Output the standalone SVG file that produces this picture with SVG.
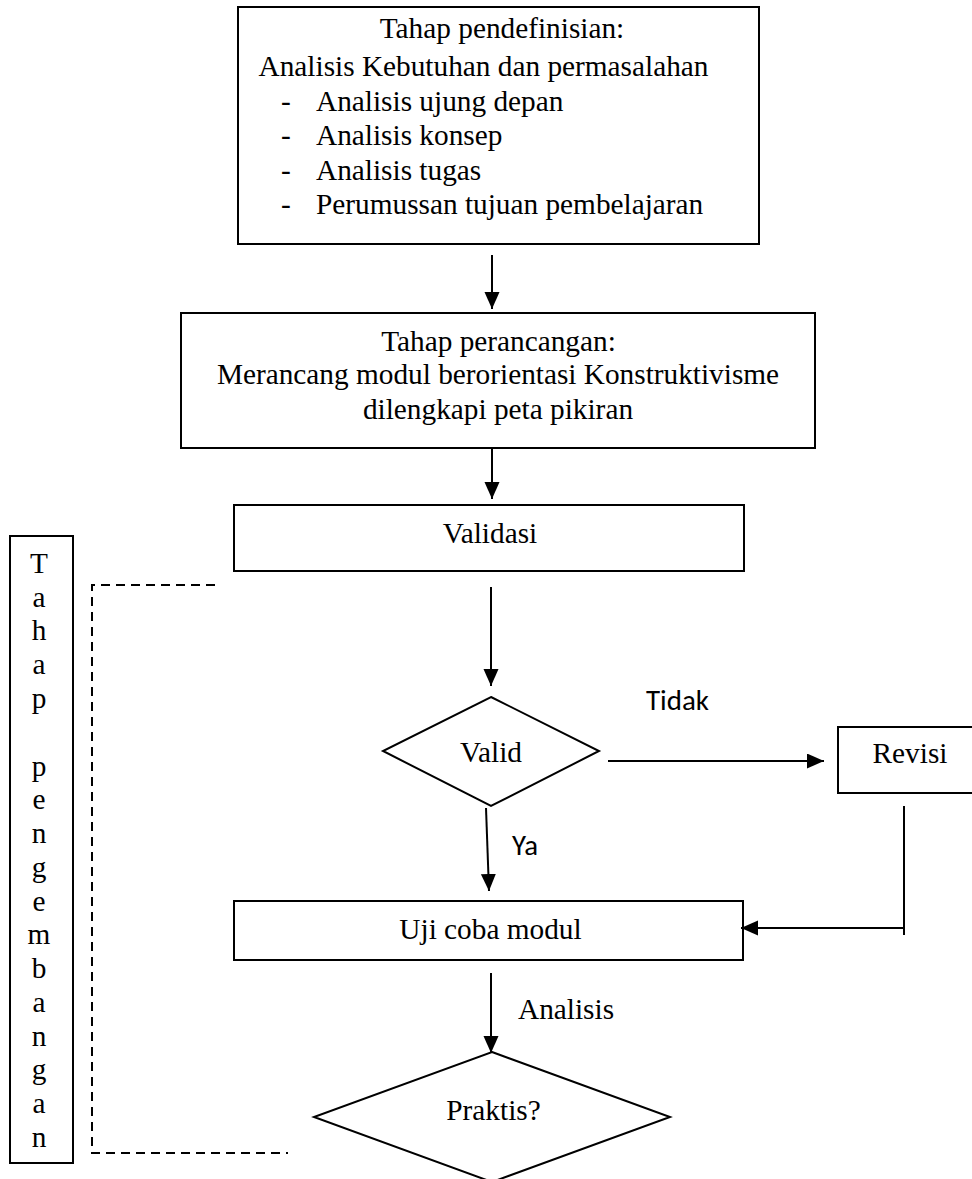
<svg xmlns="http://www.w3.org/2000/svg" width="972" height="1179" viewBox="0 0 972 1179">
<style>
  .box { fill: #fff; stroke: #000; stroke-width: 2; }
  .ln { fill: none; stroke: #000; stroke-width: 2; }
  .dash { fill: none; stroke: #000; stroke-width: 2; stroke-dasharray: 9 6; }
  .t { font-family: "Liberation Serif", "Times New Roman", serif; font-size: 29.3px; fill: #000; }
  .c { text-anchor: middle; }
  .s { font-family: Carlito, Lato, "Liberation Sans", sans-serif; font-size: 29.3px; fill: #000; }
</style>
<defs>
  <marker id="ah" markerUnits="userSpaceOnUse" markerWidth="18" markerHeight="16" refX="17" refY="7.5" orient="auto">
    <path d="M0,0 L17,7.5 L0,15 z" fill="#000"/>
  </marker>
</defs>
<rect x="0" y="0" width="972" height="1179" fill="#fff"/>

<g id="definisi">
  <rect class="box" x="238" y="7" width="521" height="237"/>
  <text class="t c" x="502" y="38">Tahap pendefinisian:</text>
  <text class="t c" x="483.5" y="76">Analisis Kebutuhan dan permasalahan</text>
  <text class="t" x="281" y="111">-</text><text class="t" x="316" y="111">Analisis ujung depan</text>
  <text class="t" x="281" y="145">-</text><text class="t" x="316" y="145">Analisis konsep</text>
  <text class="t" x="281" y="180">-</text><text class="t" x="316" y="180">Analisis tugas</text>
  <text class="t" x="281" y="214">-</text><text class="t" x="316" y="214">Perumussan tujuan pembelajaran</text>
</g>

<g id="perancangan">
  <rect class="box" x="181" y="313" width="634" height="135"/>
  <text class="t c" x="498.5" y="351">Tahap perancangan:</text>
  <text class="t c" x="498" y="384">Merancang modul berorientasi Konstruktivisme</text>
  <text class="t c" x="498" y="419">dilengkapi peta pikiran</text>
</g>

<g id="validasi">
  <rect class="box" x="234" y="505" width="510" height="66"/>
  <text class="t c" x="490" y="543">Validasi</text>
</g>

<g id="valid">
  <polygon class="box" points="491,697 599,751 491,806 383,751"/>
  <text class="t c" x="491" y="762">Valid</text>
</g>

<g id="revisi">
  <rect class="box" x="838" y="727" width="145" height="66"/>
  <text class="t c" x="910" y="763">Revisi</text>
</g>

<g id="ujicoba">
  <rect class="box" x="234" y="901" width="509" height="59"/>
  <text class="t c" x="490.5" y="939">Uji coba modul</text>
</g>

<g id="praktis">
  <polygon class="box" points="492,1052 670,1117 492,1182 314,1117"/>
  <text class="t c" x="493.5" y="1120">Praktis?</text>
</g>

<g id="pengembangan">
  <rect class="box" x="10" y="536" width="63" height="627"/>
  <g class="t c">
    <text x="39" y="573">T</text>
    <text x="39" y="607">a</text>
    <text x="39" y="640">h</text>
    <text x="39" y="674">a</text>
    <text x="39" y="708">p</text>
    <text x="39" y="776">p</text>
    <text x="39" y="809">e</text>
    <text x="39" y="843">n</text>
    <text x="39" y="877">g</text>
    <text x="39" y="911">e</text>
    <text x="39" y="944">m</text>
    <text x="39" y="978">b</text>
    <text x="39" y="1012">a</text>
    <text x="39" y="1046">n</text>
    <text x="39" y="1079">g</text>
    <text x="39" y="1113">a</text>
    <text x="39" y="1147">n</text>
  </g>
</g>

<g id="connectors">
  <line class="ln" x1="492" y1="255" x2="492" y2="309" marker-end="url(#ah)"/>
  <line class="ln" x1="492" y1="448" x2="492" y2="499" marker-end="url(#ah)"/>
  <line class="ln" x1="491" y1="587" x2="491" y2="686" marker-end="url(#ah)"/>
  <line class="ln" x1="608" y1="761" x2="824" y2="761" marker-end="url(#ah)"/>
  <line class="ln" x1="486" y1="808" x2="489" y2="891" marker-end="url(#ah)"/>
  <polyline class="ln" points="904,806 904,935"/>
  <line class="ln" x1="904" y1="928" x2="741" y2="928" marker-end="url(#ah)"/>
  <line class="ln" x1="491" y1="973" x2="491" y2="1053" marker-end="url(#ah)"/>
  <path class="dash" d="M215,585 H92 V1153 H288"/>
  <text class="s" x="646" y="710" textLength="63" lengthAdjust="spacingAndGlyphs">Tidak</text>
  <text class="s" x="512" y="855" textLength="26" lengthAdjust="spacingAndGlyphs">Ya</text>
  <text class="t" x="518" y="1019">Analisis</text>
</g>
</svg>
